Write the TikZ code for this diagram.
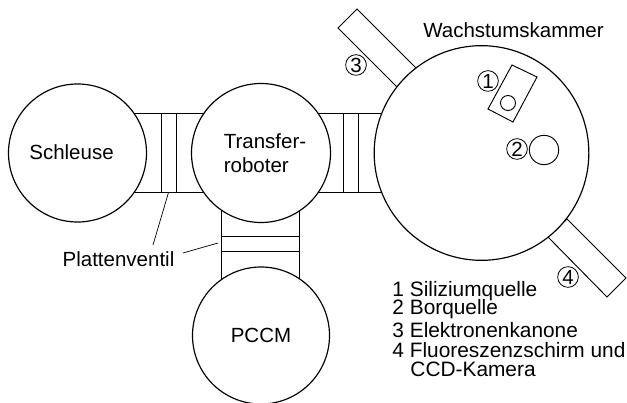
\documentclass[tikz,border=0pt]{standalone}
\usepackage{fontspec}
\setmainfont{Liberation Sans}
\tikzset{
  kammer/.style={draw,circle,fill=white,inner sep=0pt,line width=1pt},
  ventil/.style={draw,rectangle,fill=white,inner sep=0pt,line width=0.8pt},
  nummer/.style={draw,circle,inner sep=0pt,minimum size=0.62cm,line width=0.7pt},
  legende/.style={anchor=base west,inner sep=0pt,font=\fontsize{17.8}{20}\selectfont},
}
\begin{document}
\begin{tikzpicture}[x=0.03cm,y=-0.03cm,line width=0.8pt,every node/.style={font=\fontsize{17.5}{20}\selectfont}]
  \useasboundingbox (0,0) rectangle (627,403);
  \foreach \y in {113,192} {
    \draw (77,\y) -- (481,\y);
  }
  \foreach \x in {221,299} {
    \draw (\x,153) -- (\x,336);
  }
  \node[ventil,minimum width=0.45cm,minimum height=2.37cm] (ventillinks) at (168.5,152.5) {};
  \node[ventil,minimum width=0.45cm,minimum height=2.37cm] (ventilrechts) at (350.5,152.5) {};
  \node[ventil,minimum width=2.34cm,minimum height=0.45cm] (ventilunten) at (260,243.5) {};

  \draw (338,28) -- (357,9) -- (416,68) -- (397,87) -- cycle;
  \draw (548,237) -- (567,219) -- (626,278) -- (607,297) -- cycle;

  \node[kammer,minimum size=4.14cm] (schleuse) at (77.5,153) {};
  \node[kammer,minimum size=4.17cm] (transfer) at (261,153) {};
  \node[kammer,minimum size=4.11cm] (pccm) at (261,335.5) {PCCM};
  \node[kammer,minimum size=6.44cm] (wachstum) at (481.5,153) {};
  \node (schleusetext) at (71.5,152) {Schleuse};
  \node[align=left] (transfertext) at (265,153) {Transfer-\\roboter};

  \draw (512,65) -- (537,77) -- (513,122) -- (488,109) -- cycle;
  \node[kammer,line width=0.8pt,minimum size=0.45cm] (siquelle) at (508,103) {};
  \node[kammer,line width=0.8pt,minimum size=0.88cm] (borquelle) at (544,150) {};

  \foreach \n/\x/\y in {1/488/81,2/517/149,3/356/65,4/568/277} {
    \node[nummer] (nummer\n) at (\x,\y) {\n};
  }

  \node (titel) at (513.5,30) {Wachstumskammer};
  \node (plattenventil) at (118.5,259) {Plattenventil};
  \coordinate (ende1) at (153,245);
  \coordinate (ende2) at (183,253);
  \coordinate (ende3) at (218,243);
  \draw[line width=0.6pt] (ventillinks.south) -- (ende1);
  \draw[line width=0.6pt] (ende2) -- (ende3);

  \foreach \y/\lab in {296/1 Siliziumquelle,314/2 Borquelle,337/3 Elektronenkanone,357/4 Fluoreszenzschirm und} {
    \node[legende] at (392,\y) {\lab};
  }
  \node[legende] at (410,376) {CCD-Kamera};
\end{tikzpicture}
\end{document}
